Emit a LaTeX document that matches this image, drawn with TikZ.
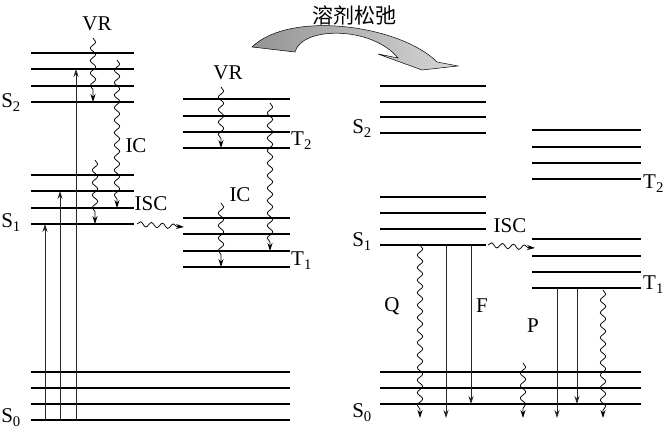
\documentclass[tikz,border=0pt]{standalone}
\usepackage{fontspec}
\setmainfont{Liberation Serif}
\newfontfamily\cjk{Noto Sans CJK SC}
\usetikzlibrary{decorations.pathmorphing,arrows.meta}
\begin{document}
\begin{tikzpicture}[x=1pt,y=-1pt,
 lvl/.style={line width=1.4pt},
 tipped/.style={-{Stealth[length=8pt,width=5pt]}},
 straightarr/.style={tipped, line width=0.75pt, draw=black!85},
 wavy/.style={tipped, line width=0.75pt, decorate, decoration={snake, amplitude=2.7pt, segment length=12.5pt, post length=7pt}},
 lab/.style={font=\fontsize{21}{21}\selectfont, inner sep=0pt},
]
\useasboundingbox (0,0) rectangle (665,435);

% ---------- left: singlet levels ----------
\foreach \y in {53,69,86,102} \draw[lvl] (31,\y) -- (134,\y);
\foreach \y in {175,191,208,224} \draw[lvl] (31,\y) -- (134,\y);
\foreach \y in {372,388,404,420} \draw[lvl] (31,\y) -- (290,\y);
% ---------- middle: triplet levels ----------
\foreach \y in {99,116,132,148} \draw[lvl] (183,\y) -- (290,\y);
\foreach \y in {218,234,251,267} \draw[lvl] (183,\y) -- (290,\y);
% ---------- right: relaxed singlet levels ----------
\foreach \y in {86,102,117,133} \draw[lvl] (380,\y) -- (486,\y);
\foreach \y in {197,213,229,245} \draw[lvl] (380,\y) -- (486,\y);
\foreach \y in {372,388,404} \draw[lvl] (380,\y) -- (641,\y);
% ---------- right: triplet levels ----------
\foreach \y in {130,147,163,179} \draw[lvl] (532,\y) -- (641,\y);
\foreach \y in {239,256,272,288} \draw[lvl] (532,\y) -- (641,\y);

% ---------- labels ----------
\node[lab, anchor=base east] (s2a) at (21,108) {S\textsubscript{2}};
\node[lab, anchor=base east] (s1a) at (21,228) {S\textsubscript{1}};
\node[lab, anchor=base east] (s0a) at (21,423) {S\textsubscript{0}};
\node[lab, anchor=base west] (t2a) at (291,146) {T\textsubscript{2}};
\node[lab, anchor=base west] (t1a) at (291,266) {T\textsubscript{1}};
\node[lab, anchor=base east] (s2b) at (372,134) {S\textsubscript{2}};
\node[lab, anchor=base east] (s1b) at (372,247) {S\textsubscript{1}};
\node[lab, anchor=base east] (s0b) at (372,418) {S\textsubscript{0}};
\node[lab, anchor=base west] (t2b) at (643,189) {T\textsubscript{2}};
\node[lab, anchor=base west] (t1b) at (643,290) {T\textsubscript{1}};

\node[lab, anchor=base] (vra) at (97,31) {VR};
\node[lab, anchor=base] (ica) at (136,153) {IC};
\node[lab, anchor=base] (isca) at (151,211) {ISC};
\node[lab, anchor=base] (vrb) at (228,80) {VR};
\node[lab, anchor=base] (icb) at (240,202) {IC};
\node[lab, anchor=base] (iscb) at (510,233) {ISC};
\node[lab, anchor=base] (q) at (392,312) {Q};
\node[lab, anchor=base] (f) at (482,313) {F};
\node[lab, anchor=base] (p) at (533,333) {P};

% ---------- left transitions ----------
\coordinate (a1s) at (45,420); \coordinate (a1e) at (45,224);
\coordinate (a2s) at (60,420); \coordinate (a2e) at (60,191);
\coordinate (a3s) at (76,420); \coordinate (a3e) at (76,69);
\draw[straightarr] (a1s) -- (a1e);
\draw[straightarr] (a2s) -- (a2e);
\draw[straightarr] (a3s) -- (a3e);
\coordinate (vr1s) at (93,38);  \coordinate (vr1e) at (93,102);
\coordinate (ic1s) at (117,60); \coordinate (ic1e) at (117,208);
\coordinate (vr2s) at (95,160); \coordinate (vr2e) at (95,224);
\draw[wavy] (vr1s) -- (vr1e);
\draw[wavy] (ic1s) -- (ic1e);
\draw[wavy] (vr2s) -- (vr2e);
\coordinate (isc1s) at (137,224); \coordinate (isc1e) at (184,227);
\draw[wavy, decoration={amplitude=2.4pt, segment length=11pt}] (isc1s) -- (isc1e);

% ---------- middle transitions ----------
\coordinate (vr3s) at (221,87);  \coordinate (vr3e) at (221,148);
\coordinate (ic2s) at (270,103); \coordinate (ic2e) at (270,251);
\coordinate (ic3s) at (221,203); \coordinate (ic3e) at (221,267);
\draw[wavy] (vr3s) -- (vr3e);
\draw[wavy] (ic2s) -- (ic2e);
\draw[wavy] (ic3s) -- (ic3e);

% ---------- right transitions ----------
\coordinate (qs) at (420,245); \coordinate (qe) at (420,418);
\coordinate (k1s) at (446,245); \coordinate (k1e) at (446,418);
\coordinate (fs) at (471,245); \coordinate (fe) at (471,404);
\draw[wavy] (qs) -- (qe);
\draw[straightarr] (k1s) -- (k1e);
\draw[straightarr] (fs) -- (fe);
\coordinate (isc2s) at (488,245); \coordinate (isc2e) at (535,248);
\draw[wavy, decoration={amplitude=2.4pt, segment length=11pt}] (isc2s) -- (isc2e);
\coordinate (pws) at (523,363); \coordinate (pwe) at (523,418);
\draw[wavy] (pws) -- (pwe);
\coordinate (p1s) at (557,288); \coordinate (p1e) at (557,418);
\coordinate (p2s) at (577,288); \coordinate (p2e) at (577,404);
\coordinate (tws) at (603,290); \coordinate (twe) at (603,418);
\draw[straightarr] (p1s) -- (p1e);
\draw[straightarr] (p2s) -- (p2e);
\draw[wavy] (tws) -- (twe);

% ---------- solvent relaxation arrow ----------
\path[draw=black, line width=0.5pt, left color=black!42, right color=black!16]
  (252,47) -- (295,52)
  .. controls (302,26) and (372,26) .. (398,58)
  -- (378,54) -- (422,70) -- (458,66) -- (437,62)
  .. controls (400,25) and (290,10) .. cycle;
\node[font=\cjk\fontsize{21}{21}\selectfont, inner sep=0pt] (solv) at (354,15) {溶剂松弛};
\end{tikzpicture}
\end{document}
